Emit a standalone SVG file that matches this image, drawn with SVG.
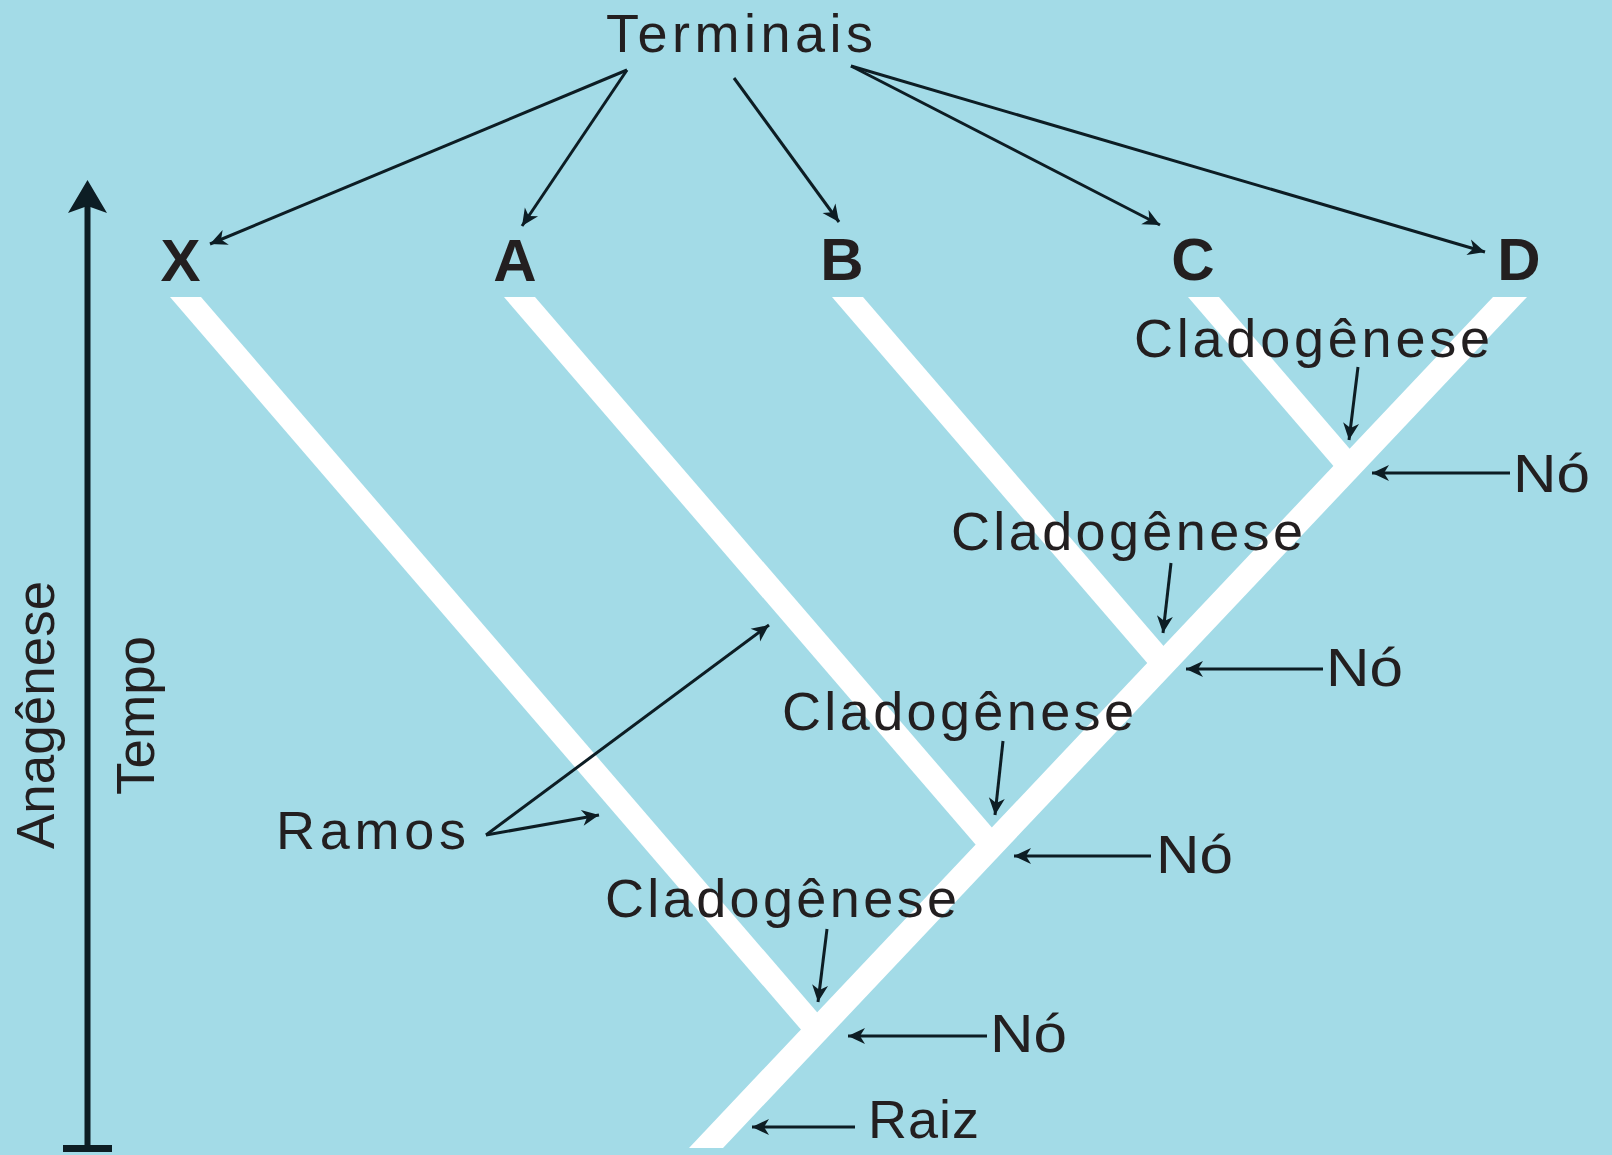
<svg xmlns="http://www.w3.org/2000/svg" width="1612" height="1155" viewBox="0 0 1612 1155">
<style>
.lbl{font-family:"Liberation Sans",Arial,sans-serif;font-size:54px;fill:#231f20;}
.vlbl{font-family:"Liberation Sans",Arial,sans-serif;font-size:53px;fill:#231f20;}
.term{font-family:"Liberation Sans",Arial,sans-serif;font-size:60px;font-weight:bold;fill:#231f20;text-anchor:middle;}
.br{fill:#ffffff;}
.arr{stroke:#0d1d24;stroke-width:3;fill:none;marker-end:url(#ah);}
</style>
<defs>
<marker id="ah" viewBox="-18 -9 19 18" markerWidth="19" markerHeight="18" refX="0" refY="0" orient="auto" markerUnits="userSpaceOnUse">
<path d="M0,0 L-17,-8 L-12,0 L-17,8 Z" fill="#0d1d24"/>
</marker>
</defs>
<rect x="0" y="0" width="1612" height="1155" fill="#a3dbe7"/>

<g id="tree">
<polygon class="br" points="1493,297 1527,297 723,1148 689,1148"/>
<polygon class="br" points="170,297 201,297 824.6,1021 808.3,1038.1"/>
<polygon class="br" points="504,297 535,297 999.4,836.2 983.1,853.3"/>
<polygon class="br" points="832,297 863,297 1171.1,654.7 1154.8,671.8"/>
<polygon class="br" points="1188,297 1219,297 1357.4,457.7 1341.2,474.9"/>
</g>

<g id="time-axis">
<line x1="87.5" y1="200" x2="87.5" y2="1148" stroke="#0d1d24" stroke-width="6"/>
<rect x="63" y="1145" width="49" height="7" fill="#0d1d24"/>
<path d="M87.5,180 L107,213 L87.5,206 L68,213 Z" fill="#0d1d24"/>
</g>

<g id="terminais"><text class="lbl" x="606" y="52" textLength="267" lengthAdjust="spacing">Terminais</text></g>
<g id="term-X"><text class="term" x="180.5" y="281">X</text></g>
<g id="term-A"><text class="term" x="515" y="281">A</text></g>
<g id="term-B"><text class="term" x="842" y="280">B</text></g>
<g id="term-C"><text class="term" x="1193" y="280">C</text></g>
<g id="term-D"><text class="term" x="1519" y="280">D</text></g>

<g id="clado-1"><text class="lbl" x="1134" y="357" textLength="356" lengthAdjust="spacing">Cladogênese</text></g>
<g id="clado-2"><text class="lbl" x="951" y="550" textLength="352" lengthAdjust="spacing">Cladogênese</text></g>
<g id="clado-3"><text class="lbl" x="782" y="730" textLength="352" lengthAdjust="spacing">Cladogênese</text></g>
<g id="clado-4"><text class="lbl" x="605" y="917" textLength="352" lengthAdjust="spacing">Cladogênese</text></g>

<g id="no-1"><text class="lbl" x="1513" y="492" textLength="77" lengthAdjust="spacingAndGlyphs">Nó</text></g>
<g id="no-2"><text class="lbl" x="1326" y="686" textLength="77" lengthAdjust="spacingAndGlyphs">Nó</text></g>
<g id="no-3"><text class="lbl" x="1156" y="873" textLength="77" lengthAdjust="spacingAndGlyphs">Nó</text></g>
<g id="no-4"><text class="lbl" x="990" y="1052" textLength="77" lengthAdjust="spacingAndGlyphs">Nó</text></g>
<g id="raiz"><text class="lbl" x="868" y="1138" textLength="111" lengthAdjust="spacing">Raiz</text></g>
<g id="ramos"><text class="lbl" x="276" y="849" textLength="190" lengthAdjust="spacing">Ramos</text></g>
<g id="anagenese"><text class="vlbl" transform="translate(54,849) rotate(-90)" x="0" y="0">Anagênese</text></g>
<g id="tempo"><text class="vlbl" transform="translate(154,795) rotate(-90)" x="0" y="0">Tempo</text></g>

<g id="connectors">
<line class="arr" x1="627" y1="70" x2="210" y2="244"/>
<line class="arr" x1="627" y1="70" x2="522" y2="226"/>
<line class="arr" x1="734" y1="78" x2="839" y2="222"/>
<line class="arr" x1="851" y1="66" x2="1160" y2="225"/>
<line class="arr" x1="851" y1="66" x2="1485" y2="252"/>
<line class="arr" x1="1358" y1="367" x2="1349" y2="440"/>
<line class="arr" x1="1171" y1="563" x2="1163" y2="633"/>
<line class="arr" x1="1003" y1="741" x2="995" y2="815"/>
<line class="arr" x1="827" y1="929" x2="818" y2="1002"/>
<line class="arr" x1="1510" y1="473" x2="1372" y2="473"/>
<line class="arr" x1="1323" y1="669" x2="1186" y2="669"/>
<line class="arr" x1="1151" y1="856" x2="1014" y2="856"/>
<line class="arr" x1="987" y1="1036" x2="848" y2="1036"/>
<line class="arr" x1="855" y1="1127" x2="752" y2="1127"/>
<line class="arr" x1="486" y1="835" x2="769" y2="625"/>
<line class="arr" x1="486" y1="835" x2="599" y2="815"/>
</g>
</svg>
